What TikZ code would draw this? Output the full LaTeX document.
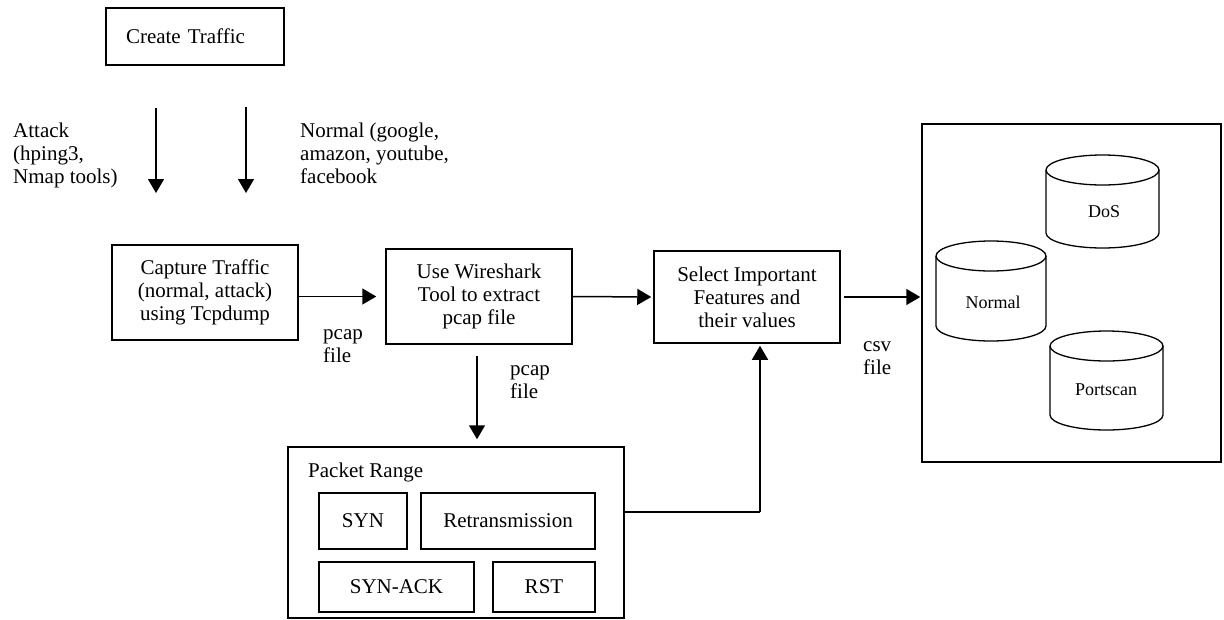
\documentclass[tikz,border=0pt]{standalone}
\usepackage{fontspec}
\setmainfont{Liberation Serif}
\usetikzlibrary{arrows.meta}
\newcommand\dbcyl[7]{% name, xc, rx, ytop, ybot, label x, label y
  \draw[cylline, fill=white] (#2-#3,-#4) -- (#2-#3,-#5) arc[start angle=180,end angle=360,x radius=#3,y radius=15] -- (#2+#3,-#4);
  \draw[cylline] (#2,-#4) ellipse[x radius=#3, y radius=15];
}
\begin{document}
\begin{tikzpicture}[x=1pt,y=1pt,
  box/.style={draw, line width=1.5pt, align=center, inner sep=0pt, font=\fontsize{21}{23}\selectfont},
  inbox/.style={draw, line width=1.3pt, align=center, inner sep=0pt, font=\fontsize{21}{23}\selectfont},
  lbl/.style={align=left, inner sep=0pt, anchor=west, font=\fontsize{21}{23}\selectfont},
  cyllbl/.style={inner sep=0pt, font=\fontsize{18}{20}\selectfont},
  cylline/.style={line width=1.3pt},
  arr/.style={line width=1.5pt, -{Triangle[length=14pt,width=16pt]}},
  plain/.style={line width=1.5pt}
]
\useasboundingbox (0,0) rectangle (1224,-619);

% boxes
\node[box, minimum width=178pt, minimum height=57pt, text width=138pt, align=left, inner xsep=20pt] (create) at (195,-36.5) {Create Traffic};
\node[box, minimum width=186pt, minimum height=95pt] (cap) at (205,-292.5) {Capture Traffic\\(normal, attack)\\using Tcpdump};
\node[box, minimum width=186pt, minimum height=95pt] (ws) at (479,-296.5) {Use Wireshark\\Tool to extract\\pcap file};
\node[box, minimum width=186pt, minimum height=92pt] (sel) at (747,-297) {Select Important\\Features and\\their values};
\node[box, minimum width=299pt, minimum height=338pt] (store) at (1071.5,-293) {};
\node[box, minimum width=336pt, minimum height=171pt] (pr) at (456,-532.5) {};
\node[lbl] (prt) at (308,-472) {Packet Range};
\node[inbox, minimum width=88pt, minimum height=56pt] (syn) at (363,-521) {SYN};
\node[inbox, minimum width=174pt, minimum height=56pt] (retr) at (508,-521) {Retransmission};
\node[inbox, minimum width=155pt, minimum height=50pt] (synack) at (396.5,-587) {SYN-ACK};
\node[inbox, minimum width=102pt, minimum height=50pt] (rst) at (544,-587) {RST};

% cylinders
\dbcyl{dos}{1102.5}{56.5}{170}{233}{}{}
\node[cyllbl] (dosl) at (1104,-212) {DoS};
\dbcyl{nor}{991}{55}{256}{326}{}{}
\node[cyllbl] (norl) at (993,-302) {Normal};
\dbcyl{port}{1106.5}{56.5}{346}{415}{}{}
\node[cyllbl] (portl) at (1106,-390) {Portscan};

% labels
\node[lbl] (attack) at (13,-155) {Attack\\(hping3,\\Nmap tools)};
\node[lbl] (normal) at (300,-153) {Normal (google,\\amazon, youtube,\\facebook};
\node[lbl] (pcap1) at (323,-346) {pcap\\file};
\node[lbl] (pcap2) at (510,-382.5) {pcap\\file};
\node[lbl] (csv) at (863,-358) {csv\\file};

% connectors
\coordinate (a1s) at (156,-108);
\coordinate (a1e) at (156,-193);
\coordinate (a2s) at (246,-107);
\coordinate (a2e) at (246,-193);
\draw[arr] (a1s) -- (a1e);
\draw[arr] (a2s) -- (a2e);
\draw[arr, shorten >=9pt] (cap.east |- ws.west) -- (ws.west);
\draw[arr, shorten >=2pt] (ws.east) -- (sel.west);
\draw[arr, shorten <=3pt, shorten >=1pt] (sel.east) -- (sel.east -| store.west);
\coordinate (wsd) at (477,-296.5);
\draw[arr, shorten <=11pt, shorten >=7pt] (wsd |- ws.south) -- (wsd |- pr.north);
\coordinate (corner) at (760,-512);
\draw[plain] (pr.east |- corner) -- (corner);
\draw[arr, shorten >=2pt] (corner) -- (corner |- sel.south);
\end{tikzpicture}
\end{document}
